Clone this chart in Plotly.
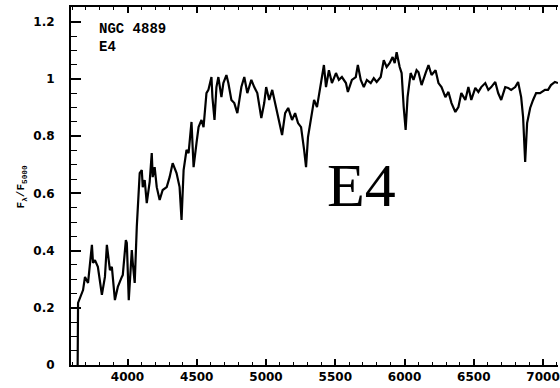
import plotly.graph_objects as go

# Wavelength (Angstrom) and normalised flux F_lambda / F_5000
wavelength = [
    3640, 3643, 3679, 3693, 3715, 3743, 3751, 3765, 3786, 3815,
    3837, 3851, 3873, 3887, 3909, 3930, 3959, 3966, 3988, 3995,
    4009, 4031, 4038, 4052, 4067, 4074, 4088, 4103, 4110, 4124,
    4139, 4160, 4175, 4182, 4196, 4211, 4232, 4254, 4283, 4304,
    4326, 4354, 4376, 4390, 4405, 4426, 4441, 4462, 4477, 4498,
    4513, 4534, 4549, 4570, 4584, 4606, 4613, 4628, 4642, 4656,
    4678, 4692, 4714, 4728, 4750, 4771, 4793, 4822, 4843, 4865,
    4894, 4915, 4937, 4966, 4987, 5001, 5023, 5045, 5066, 5088,
    5116, 5138, 5160, 5188, 5210, 5231, 5253, 5275, 5289, 5303,
    5325, 5347, 5368, 5397, 5418, 5433, 5454, 5476, 5505, 5526,
    5548, 5577, 5591, 5620, 5648, 5663, 5684, 5706, 5728, 5756,
    5778, 5799, 5828, 5850, 5871, 5893, 5914, 5929, 5943, 5965,
    5979, 5994, 6008, 6022, 6044, 6065, 6087, 6101, 6123, 6152,
    6173, 6195, 6224, 6245, 6267, 6295, 6317, 6339, 6367, 6389,
    6410, 6439, 6461, 6482, 6511, 6533, 6554, 6583, 6605, 6626,
    6655, 6676, 6698, 6727, 6748, 6770, 6799, 6820, 6842, 6856,
    6871, 6885, 6907, 6928, 6950, 6978, 7014, 7036, 7057, 7086,
    7108,
]
flux = [
    0.000, 0.217, 0.262, 0.308, 0.287, 0.420, 0.357, 0.367, 0.343, 0.245,
    0.308, 0.420, 0.332, 0.343, 0.227, 0.273, 0.308, 0.315, 0.437, 0.427,
    0.227, 0.402, 0.357, 0.287, 0.483, 0.566, 0.671, 0.682, 0.622, 0.647,
    0.566, 0.640, 0.741, 0.657, 0.692, 0.622, 0.577, 0.612, 0.622, 0.657,
    0.706, 0.671, 0.622, 0.507, 0.682, 0.752, 0.741, 0.850, 0.692, 0.776,
    0.832, 0.857, 0.832, 0.951, 0.962, 1.007, 0.937, 0.857, 0.972, 1.007,
    0.937, 0.986, 1.014, 0.986, 0.927, 0.916, 0.881, 0.972, 1.007, 0.951,
    0.997, 0.972, 0.951, 0.864, 0.916, 0.972, 0.927, 0.962, 0.916, 0.867,
    0.804, 0.881, 0.899, 0.857, 0.881, 0.846, 0.832, 0.752, 0.692, 0.797,
    0.857, 0.927, 0.902, 0.986, 1.049, 0.972, 1.031, 0.986, 1.021, 0.997,
    1.007, 0.986, 0.955, 0.997, 1.007, 1.049, 0.997, 0.972, 0.997, 0.986,
    1.003, 0.990, 1.007, 1.066, 1.042, 1.056, 1.077, 1.056, 1.094, 1.042,
    1.021, 0.902, 0.822, 0.937, 1.021, 0.997, 1.031, 1.024, 0.979, 1.021,
    1.049, 1.014, 1.031, 0.986, 0.972, 0.937, 0.955, 0.916, 0.885, 0.902,
    0.951, 0.927, 0.972, 0.927, 0.969, 0.955, 0.972, 0.986, 0.962, 0.972,
    0.990, 0.951, 0.927, 0.972, 0.969, 0.962, 0.972, 0.990, 0.937, 0.867,
    0.710, 0.846, 0.899, 0.927, 0.951, 0.951, 0.962, 0.962, 0.979, 0.990,
    0.986,
]

x_ticks = [4000, 4500, 5000, 5500, 6000, 6500, 7000]
y_ticks = [0, 0.2, 0.4, 0.6, 0.8, 1.0, 1.2]
x_minor_step = 100
y_minor_step = 0.05

galaxy_name = "NGC 4889"
galaxy_type = "E4"

tickfont = dict(family="DejaVu Sans", size=12, color="black")

fig = go.Figure()
fig.add_trace(go.Scatter(
    x=wavelength, y=flux, mode="lines",
    line=dict(color="black", width=2.2),
    showlegend=False, hoverinfo="skip",
))

fig.update_layout(
    width=560, height=388,
    margin=dict(l=71, r=0, t=7, b=23),
    paper_bgcolor="white", plot_bgcolor="white",
    xaxis=dict(
        range=[3592, 7108],
        tickmode="array", tickvals=x_ticks,
        ticktext=["<b>%d</b>" % v for v in x_ticks],
        ticks="inside", ticklen=6, tickwidth=2, tickcolor="black",
        minor=dict(dtick=x_minor_step, ticks="inside", ticklen=3,
                   tickwidth=1.2, tickcolor="black"),
        showline=True, linecolor="black", linewidth=2,
        mirror="allticks",
        showgrid=False, zeroline=False,
        tickfont=tickfont,
        ticklabeloverflow="allow",
    ),
    yaxis=dict(
        range=[0, 1.252],
        tickmode="array", tickvals=y_ticks,
        ticktext=["<b>%g</b>" % v for v in y_ticks],
        ticks="inside", ticklen=10, tickwidth=2, tickcolor="black",
        minor=dict(dtick=y_minor_step, ticks="inside", ticklen=6,
                   tickwidth=1.2, tickcolor="black"),
        showline=True, linecolor="black", linewidth=2,
        showgrid=False, zeroline=False,
        tickfont=tickfont,
        ticklabelstandoff=12,
    ),
    annotations=[
        dict(text="<b>" + galaxy_name + "</b>", xref="paper", yref="paper",
             x=0.053, y=0.9385, xanchor="left", yanchor="middle", showarrow=False,
             font=dict(family="Liberation Mono", size=14, color="black")),
        dict(text="<b>" + galaxy_type + "</b>", xref="paper", yref="paper",
             x=0.053, y=0.888, xanchor="left", yanchor="middle", showarrow=False,
             font=dict(family="Liberation Mono", size=14, color="black")),
        dict(text=galaxy_type, xref="paper", yref="paper", x=0.597, y=0.503,
             xanchor="center", yanchor="middle", showarrow=False,
             font=dict(family="Liberation Serif", size=62, color="black")),
        dict(text="<b>F<sub>λ</sub>/F<sub>5000</sub></b>", xref="paper", yref="paper",
             x=-0.102, y=0.497, xanchor="center", yanchor="middle", textangle=-90,
             showarrow=False,
             font=dict(family="Liberation Mono", size=11, color="black")),
    ],
)

fig.write_html("out.html")
